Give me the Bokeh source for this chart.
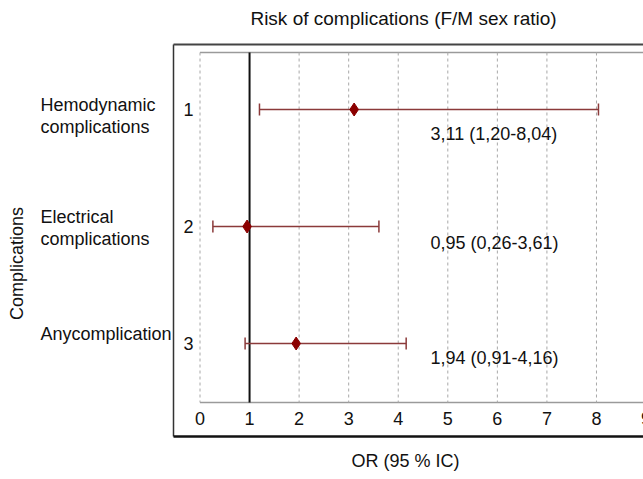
import numpy as np
from bokeh.plotting import figure
from bokeh.models import Range1d, ColumnDataSource
from bokeh.core.properties import value
from bokeh.embed import file_html
from bokeh.resources import INLINE

# ---- data ----
categories = ["Hemodynamic\ncomplications", "Electrical\ncomplications", "Anycomplication"]
rows = [1, 2, 3]
row_labels = ["1", "2", "3"]
or_vals = [3.11, 0.95, 1.94]
ci_low = [1.20, 0.26, 0.91]
ci_high = [8.04, 3.61, 4.16]
x_ticks = [0, 1, 2, 3, 4, 5, 6, 7, 8, 9]
title_text = "Risk of complications (F/M sex ratio)"
x_label = "OR (95 % IC)"
y_label = "Complications"


def fmt(v):
    return f"{v:.2f}".replace(".", ",")


value_labels = [f"{fmt(o)} ({fmt(l)}-{fmt(h)})" for o, l, h in zip(or_vals, ci_low, ci_high)]

# ---- layout helpers (pixel -> data) ----
PX0, PXU = 199.5, 49.56   # picture x of value 0, px per unit
PY1, PYU = 109.0, 117.0   # picture y of row 1, px per row


def xs(px):
    return (px - PX0) / PXU


def ys(py):
    return 1 + (py - PY1) / PYU


W, H = 643, 479
FONT = value("Liberation Sans")
TXT = "#111111"

p = figure(width=W, height=H, output_backend="svg", toolbar_location=None,
           x_range=Range1d(xs(0), xs(W)), y_range=Range1d(ys(H), ys(0)),
           x_axis_type=None, y_axis_type=None, min_border=0)
p.grid.visible = False
p.outline_line_color = None
p.background_fill_color = "white"
p.border_fill_color = "white"

inner_top, inner_bot = ys(52), ys(402)
outer_left, outer_top, outer_bot = xs(173), ys(44), ys(436)
far_right = xs(700)

# outer box
p.segment(x0=[outer_left], y0=[outer_top], x1=[outer_left], y1=[outer_bot],
          line_color="#333333", line_width=1.5)
p.segment(x0=[outer_left], y0=[outer_top], x1=[far_right], y1=[outer_top],
          line_color="#444444", line_width=2)
p.segment(x0=[outer_left], y0=[outer_bot], x1=[far_right], y1=[outer_bot],
          line_color="#111111", line_width=2.5)

# inner frame lines
p.segment(x0=[0, 0], y0=[inner_top, inner_bot], x1=[far_right, far_right], y1=[inner_top, inner_bot],
          line_color="#9a9a9a", line_width=1.5)

# dashed grid lines
grid_x = [t for t in x_ticks if t != 1]
p.segment(x0=grid_x, y0=[inner_top] * len(grid_x), x1=grid_x, y1=[inner_bot] * len(grid_x),
          line_color="#a8a8a8", line_width=1, line_dash="3 3")

# reference line at OR = 1
p.segment(x0=[1], y0=[inner_top], x1=[1], y1=[inner_bot], line_color="#111111", line_width=2)

# confidence intervals
src = ColumnDataSource(dict(row=rows, orv=or_vals, lo=ci_low, hi=ci_high,
                            lab=value_labels, cat=categories, rl=row_labels,
                            cat_off=[6, 1, -10], lab_off=[24, 16, 14]))
p.segment(x0="lo", y0="row", x1="hi", y1="row", source=src, line_color="#8B3A3A", line_width=1.5)
p.scatter(x="lo", y="row", source=src, marker="dash", angle=np.pi / 2, size=12,
          line_color="#8B3A3A", line_width=1.5)
p.scatter(x="hi", y="row", source=src, marker="dash", angle=np.pi / 2, size=12,
          line_color="#8B3A3A", line_width=1.5)
p.scatter(x="orv", y="row", source=src, marker="diamond", size=13,
          fill_color="#8B0000", line_color="#8B0000")

# value labels
p.text(x=xs(430), y="row", text="lab", y_offset="lab_off", source=src, text_font=FONT,
       text_font_size="18px", text_color=TXT, text_align="left", text_baseline="middle")

# row numbers
p.text(x=xs(193), y="row", text="rl", source=src, text_font=FONT, text_font_size="18px",
       text_color=TXT, text_align="right", text_baseline="middle")

# category names
p.text(x=xs(40), y="row", text="cat", y_offset="cat_off", source=src, text_font=FONT,
       text_font_size="18px", text_color=TXT, text_align="left", text_baseline="middle",
       text_line_height=1.1)

# x tick labels
p.text(x=x_ticks, y=[ys(418)] * len(x_ticks), text=[str(t) for t in x_ticks], text_font=FONT,
       text_font_size="18px", text_color=TXT, text_align="center", text_baseline="middle")

# axis titles and title
p.text(x=[xs(405)], y=[ys(460)], text=[x_label], text_font=FONT, text_font_size="18px",
       text_color=TXT, text_align="center", text_baseline="middle")
p.text(x=[xs(16)], y=[ys(263)], text=[y_label], angle=np.pi / 2, text_font=FONT,
       text_font_size="18px", text_color=TXT, text_align="center", text_baseline="middle")
p.text(x=[xs(403)], y=[ys(18)], text=[title_text], text_font=FONT, text_font_size="19px",
       text_color=TXT, text_align="center", text_baseline="middle")

open("out.html", "w").write(file_html(p, INLINE))
